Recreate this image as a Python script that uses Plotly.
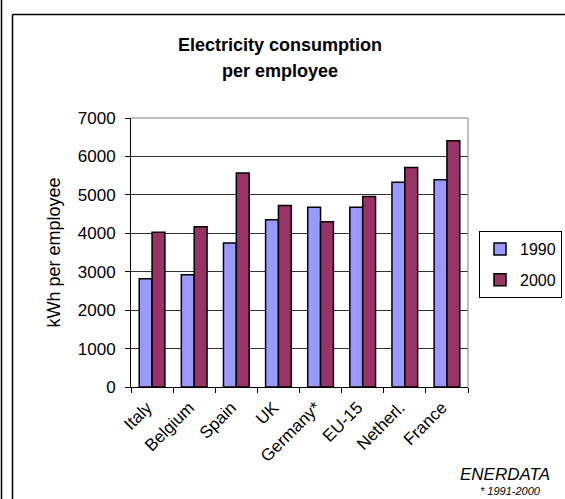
import plotly.graph_objects as go

categories = ["Italy", "Belgium", "Spain", "UK", "Germany*", "EU-15", "Netherl.", "France"]
values_1990 = [2820, 2920, 3750, 4350, 4680, 4680, 5330, 5390]
values_2000 = [4030, 4170, 5570, 4720, 4300, 4960, 5710, 6410]
y_ticks = [0, 1000, 2000, 3000, 4000, 5000, 6000, 7000]

W, H = 565, 499
L, R, T, B = 131, 97, 118, 112
FONT = "Liberation Sans, Arial, sans-serif"


def px(x):
    return (x - L) / (W - L - R)


def py(y):
    return (H - B - y) / (H - T - B)


fig = go.Figure()
fig.add_trace(go.Bar(x=categories, y=values_1990, name="1990", legendgroup="a",
                     marker=dict(color="#9999FF", line=dict(color="black", width=1.5))))
fig.add_trace(go.Bar(x=categories, y=values_2000, name="2000", legendgroup="b",
                     marker=dict(color="#993366", line=dict(color="black", width=1.5))))

shapes = [
    dict(type="line", xref="paper", yref="paper", x0=0, x1=1, y0=1, y1=1,
         line=dict(color="#808080", width=1)),
    dict(type="line", xref="paper", yref="paper", x0=1, x1=1, y0=0, y1=1,
         line=dict(color="#808080", width=1)),
    dict(type="line", xref="paper", yref="paper", x0=px(1.5), x1=px(1.5), y0=py(0), y1=py(H),
         line=dict(color="black", width=1.5)),
    dict(type="line", xref="paper", yref="paper", x0=px(12.5), x1=px(12.5), y0=py(14.5), y1=py(H),
         line=dict(color="black", width=1.5)),
    dict(type="line", xref="paper", yref="paper", x0=px(12.5), x1=px(W), y0=py(14.5), y1=py(14.5),
         line=dict(color="black", width=1.5)),
]

annotations = [
    dict(text="<b>Electricity consumption</b>", xref="paper", yref="paper",
         x=px(280), y=py(45), xanchor="center", yanchor="middle", showarrow=False,
         font=dict(family=FONT, size=18, color="black")),
    dict(text="<b>per employee</b>", xref="paper", yref="paper",
         x=px(280), y=py(71), xanchor="center", yanchor="middle", showarrow=False,
         font=dict(family=FONT, size=18, color="black")),
    dict(text="<i>ENERDATA</i>", xref="paper", yref="paper", x=px(552), y=py(474),
         xanchor="right", yanchor="middle", showarrow=False,
         font=dict(family=FONT, size=17, color="black")),
    dict(text="<i>* 1991-2000</i>", xref="paper", yref="paper", x=px(543), y=py(491),
         xanchor="right", yanchor="middle", showarrow=False,
         font=dict(family=FONT, size=11, color="black")),
]

fig.update_layout(
    width=W, height=H,
    margin=dict(l=L, r=R, t=T, b=B, autoexpand=False),
    paper_bgcolor="white", plot_bgcolor="white",
    barmode="group", bargap=0.39, bargroupgap=0,
    font=dict(family=FONT, size=17, color="black"),
    shapes=shapes, annotations=annotations,
    legend=dict(x=px(479), y=py(231), xanchor="left", yanchor="top",
                bordercolor="black", borderwidth=1, bgcolor="white",
                font=dict(family=FONT, size=16, color="black"),
                tracegroupgap=7, itemwidth=30),
    xaxis=dict(showline=True, linecolor="black", linewidth=1, ticks="outside",
               tickson="boundaries", ticklen=5, tickcolor="black", tickangle=-45,
               ticklabelshift=-5, ticklabelstandoff=3,
               showgrid=False, tickfont=dict(family=FONT, size=17)),
    yaxis=dict(range=[0, 7000], tickvals=y_ticks, showline=True, linecolor="black",
               linewidth=1, ticks="outside", ticklen=5, tickcolor="black",
               ticklabelstandoff=6,
               showgrid=True, gridcolor="#333333", gridwidth=1, zeroline=False,
               title=dict(text="kWh per employee", font=dict(family=FONT, size=18), standoff=12),
               tickfont=dict(family=FONT, size=17)),
)

fig.write_html("out.html")
